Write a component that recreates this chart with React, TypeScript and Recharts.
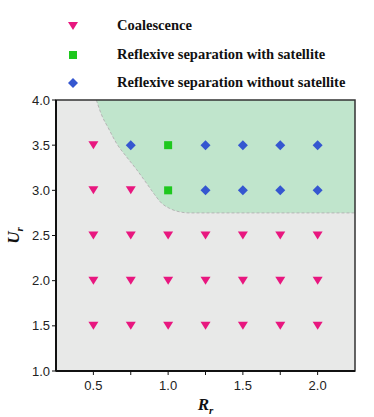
import React from 'react';
import { ComposedChart, XAxis, YAxis, Scatter, Area, CartesianGrid, ReferenceArea } from 'recharts';

const coalescence = [
  { x: 0.5, y: 3.5 },
  { x: 0.5, y: 3.0 }, { x: 0.75, y: 3.0 },
  { x: 0.5, y: 2.5 }, { x: 0.75, y: 2.5 }, { x: 1.0, y: 2.5 }, { x: 1.25, y: 2.5 }, { x: 1.5, y: 2.5 }, { x: 1.75, y: 2.5 }, { x: 2.0, y: 2.5 },
  { x: 0.5, y: 2.0 }, { x: 0.75, y: 2.0 }, { x: 1.0, y: 2.0 }, { x: 1.25, y: 2.0 }, { x: 1.5, y: 2.0 }, { x: 1.75, y: 2.0 }, { x: 2.0, y: 2.0 },
  { x: 0.5, y: 1.5 }, { x: 0.75, y: 1.5 }, { x: 1.0, y: 1.5 }, { x: 1.25, y: 1.5 }, { x: 1.5, y: 1.5 }, { x: 1.75, y: 1.5 }, { x: 2.0, y: 1.5 },
];
const withSatellite = [
  { x: 1.0, y: 3.5 },
  { x: 1.0, y: 3.0 },
];
const withoutSatellite = [
  { x: 0.75, y: 3.5 }, { x: 1.25, y: 3.5 }, { x: 1.5, y: 3.5 }, { x: 1.75, y: 3.5 }, { x: 2.0, y: 3.5 },
  { x: 1.25, y: 3.0 }, { x: 1.5, y: 3.0 }, { x: 1.75, y: 3.0 }, { x: 2.0, y: 3.0 },
];
const boundaryX = [0.52, 0.555, 0.6, 0.655, 0.72, 0.79, 0.855, 0.91, 0.955, 1.01, 1.077, 1.143, 2.25];
const boundaryY = [4.0, 3.835, 3.69, 3.52, 3.375, 3.228, 3.08, 2.952, 2.86, 2.8, 2.762, 2.75, 2.75];
const boundary = boundaryX.map((x, i) => ({ x, y: boundaryY[i] }));

const xTicks = [0.5, 0.75, 1.0, 1.25, 1.5, 1.75, 2.0];
const yTicks = [1.0, 1.5, 2.0, 2.5, 3.0, 3.5, 4.0];
const seriesNames = ['Coalescence', 'Reflexive separation with satellite', 'Reflexive separation without satellite'];

const PINK = '#e8177f';
const GREEN = '#1ec81e';
const BLUE = '#3557d0';

const TriDown = (p: any) => {
  const { cx, cy } = p;
  return <path d={`M${cx - 5},${cy - 4} L${cx + 5},${cy - 4} L${cx},${cy + 4} Z`} fill={PINK} />;
};
const Square = (p: any) => {
  const { cx, cy } = p;
  return <rect x={cx - 4} y={cy - 4} width={8} height={8} fill={GREEN} />;
};
const Diamond = (p: any) => {
  const { cx, cy } = p;
  return <path d={`M${cx},${cy - 5} L${cx + 5},${cy} L${cx},${cy + 5} L${cx - 5},${cy} Z`} fill={BLUE} />;
};

const markerIcons = [
  <svg width={14} height={14} key="a" style={{ display: 'block' }}><path d="M2,3 L12,3 L7,11 Z" fill={PINK} /></svg>,
  <svg width={14} height={14} key="b" style={{ display: 'block' }}><rect x={3} y={3} width={8} height={8} fill={GREEN} /></svg>,
  <svg width={14} height={14} key="c" style={{ display: 'block' }}><path d="M7,2 L12,7 L7,12 L2,7 Z" fill={BLUE} /></svg>,
];

const LegendBlock = () => (
  <div style={{ position: 'absolute', left: 0, top: 0, width: 374, height: 100 }}>
    {seriesNames.map((n, i) => (
      <div key={n} style={{ position: 'absolute', top: 12 + i * 28.5, left: 0, height: 28, width: 374 }}>
        <div style={{ position: 'absolute', left: 66, top: 7 }}>{markerIcons[i]}</div>
        <div style={{ position: 'absolute', left: 117, top: 5, fontFamily: '"Liberation Serif", "Times New Roman", serif', fontWeight: 'bold', fontSize: 14.5, color: '#111', whiteSpace: 'nowrap', lineHeight: '16px' }}>{n}</div>
      </div>
    ))}
  </div>
);

const XLabel = (props: any) => {
  const { viewBox } = props;
  const cx = viewBox.x + viewBox.width / 2;
  return (
    <text x={cx} y={viewBox.y + 39} textAnchor="middle" fontFamily='"Liberation Serif", serif' fontWeight="bold" fontStyle="italic" fontSize={17} fill="#111">
      R<tspan fontSize={11} dy={4}>r</tspan>
    </text>
  );
};
const YLabel = (props: any) => {
  const { viewBox } = props;
  const cy = viewBox.y + viewBox.height / 2;
  const x = 19;
  return (
    <text x={x} y={cy} transform={`rotate(-90 ${x} ${cy})`} textAnchor="middle" fontFamily='"Liberation Serif", serif' fontWeight="bold" fontStyle="italic" fontSize={17} fill="#111">
      U<tspan fontSize={11} dy={4}>r</tspan>
    </text>
  );
};

const tickStyle = { fontFamily: '"Liberation Sans", Arial, sans-serif', fontSize: 13, fill: '#222' };

export default function App() {
  return (
    <div style={{ position: 'absolute', left: 0, top: 0, width: 374, height: 417, background: '#fff' }}>
      <LegendBlock />
      <div style={{ position: 'absolute', left: 0, top: 0 }}>
        <ComposedChart width={374} height={417} data={boundary} margin={{ top: 100, right: 19, left: 0, bottom: 0 }}>
          <CartesianGrid horizontal={false} vertical={false} fill="#e8e9e8" />
          <XAxis dataKey="x" type="number" domain={[0.25, 2.25]} ticks={xTicks} allowDataOverflow height={46}
            tickFormatter={(v: number) => (Math.abs(v * 2 - Math.round(v * 2)) < 1e-6 ? v.toFixed(1) : '')}
            tick={tickStyle} tickSize={4} tickMargin={6} axisLine={{ stroke: '#111', strokeWidth: 2 }} tickLine={{ stroke: '#111' }}
            label={<XLabel />} />
          <YAxis dataKey="y" type="number" domain={[1, 4]} ticks={yTicks} allowDataOverflow width={56}
            tickFormatter={(v: number) => v.toFixed(1)}
            tick={tickStyle} tickSize={4} axisLine={{ stroke: '#111', strokeWidth: 2 }} tickLine={{ stroke: '#111' }}
            label={<YLabel />} />
          <Area dataKey="y" type="monotone" baseValue={4} fill="#c0e5cc" fillOpacity={1} stroke="#b5b5b5" strokeDasharray="3 2" strokeWidth={1} isAnimationActive={false} dot={false} activeDot={false} legendType="none" />
          <ReferenceArea x1={0.25} x2={2.25} y1={1} y2={4} fill="none" stroke="#333" strokeWidth={1.5} ifOverflow="visible" />
          <Scatter name={seriesNames[0]} data={coalescence} shape={TriDown} isAnimationActive={false} />
          <Scatter name={seriesNames[1]} data={withSatellite} shape={Square} isAnimationActive={false} />
          <Scatter name={seriesNames[2]} data={withoutSatellite} shape={Diamond} isAnimationActive={false} />
        </ComposedChart>
      </div>
    </div>
  );
}
